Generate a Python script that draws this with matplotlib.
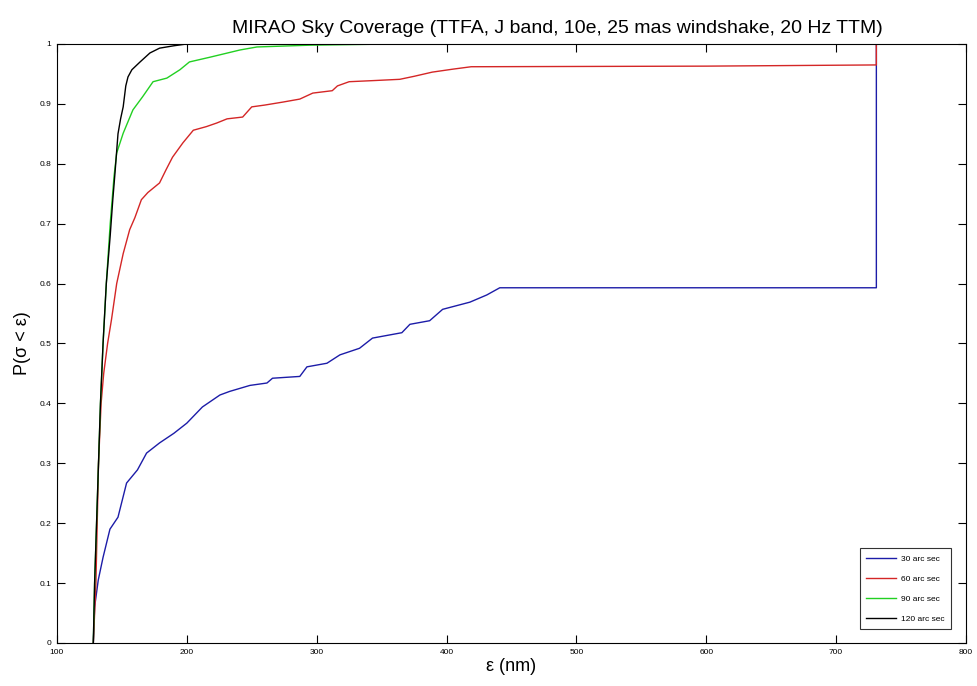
import matplotlib
matplotlib.use("Agg")
import matplotlib.pyplot as plt

# sky coverage curves (epsilon in nm, cumulative probability)
eps_30 = [128, 129, 131.8, 135.5, 140.8, 147, 153.6, 162, 169, 179, 190, 200, 212, 225.5,
          233, 248.6, 261.7, 266, 287, 292.5, 307.9, 317.9, 333, 343, 365.6, 371.8, 387,
          397, 418, 431, 441, 731, 731]
p_30 = [0, 0.06, 0.105, 0.143, 0.19, 0.21, 0.267, 0.289, 0.317, 0.334, 0.35, 0.367, 0.394,
        0.414, 0.42, 0.43, 0.434, 0.442, 0.445, 0.461, 0.467, 0.481, 0.492, 0.509, 0.518,
        0.532, 0.538, 0.557, 0.569, 0.581, 0.593, 0.593, 1.0]

eps_60 = [128, 130, 131, 132, 134, 136, 139, 142, 146, 151, 156, 160, 165, 170, 179, 184,
          189, 197, 205, 215, 223, 231, 243, 250, 260, 274, 287, 297, 312, 316, 325, 345,
          364, 375, 389, 405, 419, 600, 731, 731]
p_60 = [0, 0.1, 0.2, 0.3, 0.4, 0.45, 0.5, 0.54, 0.6, 0.65, 0.69, 0.71, 0.74, 0.752, 0.768,
        0.79, 0.811, 0.835, 0.856, 0.862, 0.868, 0.875, 0.878, 0.895, 0.898, 0.903, 0.908,
        0.918, 0.922, 0.93, 0.937, 0.939, 0.941, 0.946, 0.953, 0.958, 0.962, 0.963, 0.965, 1.0]

eps_90 = [128, 129, 130.5, 132, 133.5, 135.5, 138, 141, 144, 146, 151, 158.5, 166, 174,
          184.6, 194.7, 202, 218, 241, 254, 295, 359]
p_90 = [0, 0.1, 0.2, 0.3, 0.4, 0.5, 0.6, 0.7, 0.78, 0.818, 0.851, 0.89, 0.912, 0.937,
        0.943, 0.957, 0.97, 0.978, 0.99, 0.995, 0.998, 1.0]

eps_120 = [128, 129, 130.5, 132, 133.5, 135.5, 138, 141, 143, 144.7, 147, 149, 151, 153,
           154.7, 157.7, 164, 171.6, 179, 190, 200]
p_120 = [0, 0.1, 0.2, 0.3, 0.4, 0.5, 0.6, 0.68, 0.74, 0.785, 0.85, 0.875, 0.895, 0.93,
         0.945, 0.957, 0.97, 0.985, 0.993, 0.997, 1.0]

labels = ['30 arc sec', '60 arc sec', '90 arc sec', '120 arc sec']
colors = ['#1c1ca8', '#d42626', '#22d022', 'black']
x_ticks = [100, 200, 300, 400, 500, 600, 700, 800]
y_ticks = [0, 0.1, 0.2, 0.3, 0.4, 0.5, 0.6, 0.7, 0.8, 0.9, 1]
y_ticklabels = ['0', '0.1', '0.2', '0.3', '0.4', '0.5', '0.6', '0.7', '0.8', '0.9', '1']

plt.rcParams['font.family'] = ['Liberation Sans', 'DejaVu Sans']

fig = plt.figure(figsize=(9.77, 6.86), dpi=100)
ax = fig.add_axes([0.0583, 0.0627, 0.9304, 0.8732])

series = [(eps_30, p_30), (eps_60, p_60), (eps_90, p_90), (eps_120, p_120)]
for (x, y), lab, c in zip(series, labels, colors):
    ax.plot(x, y, color=c, lw=1.0, label=lab)

ax.set_xlim(100, 800)
ax.set_ylim(0, 1)
ax.set_xticks(x_ticks)
ax.set_yticks(y_ticks)
ax.set_yticklabels(y_ticklabels)
ax.tick_params(direction='in', length=6, width=0.8, labelsize=6,
               top=True, right=True, pad=4)
for s in ax.spines.values():
    s.set_linewidth(0.8)

ax.set_title('MIRAO Sky Coverage (TTFA, J band, 10e, 25 mas windshake, 20 Hz TTM)',
             fontsize=14, pad=8, x=0.55)
ax.set_xlabel('ε (nm)', fontsize=13, labelpad=2)
ax.set_ylabel('P(σ < ε)', fontsize=13, labelpad=6)

leg = ax.legend(loc='lower right', fontsize=6, frameon=True, fancybox=False,
                edgecolor='black', handlelength=3.6, handletextpad=0.5,
                labelspacing=1.45, borderpad=0.8, bbox_to_anchor=(0.988, 0.016))
leg.get_frame().set_linewidth(0.8)

fig.savefig('out.png', dpi=100)
